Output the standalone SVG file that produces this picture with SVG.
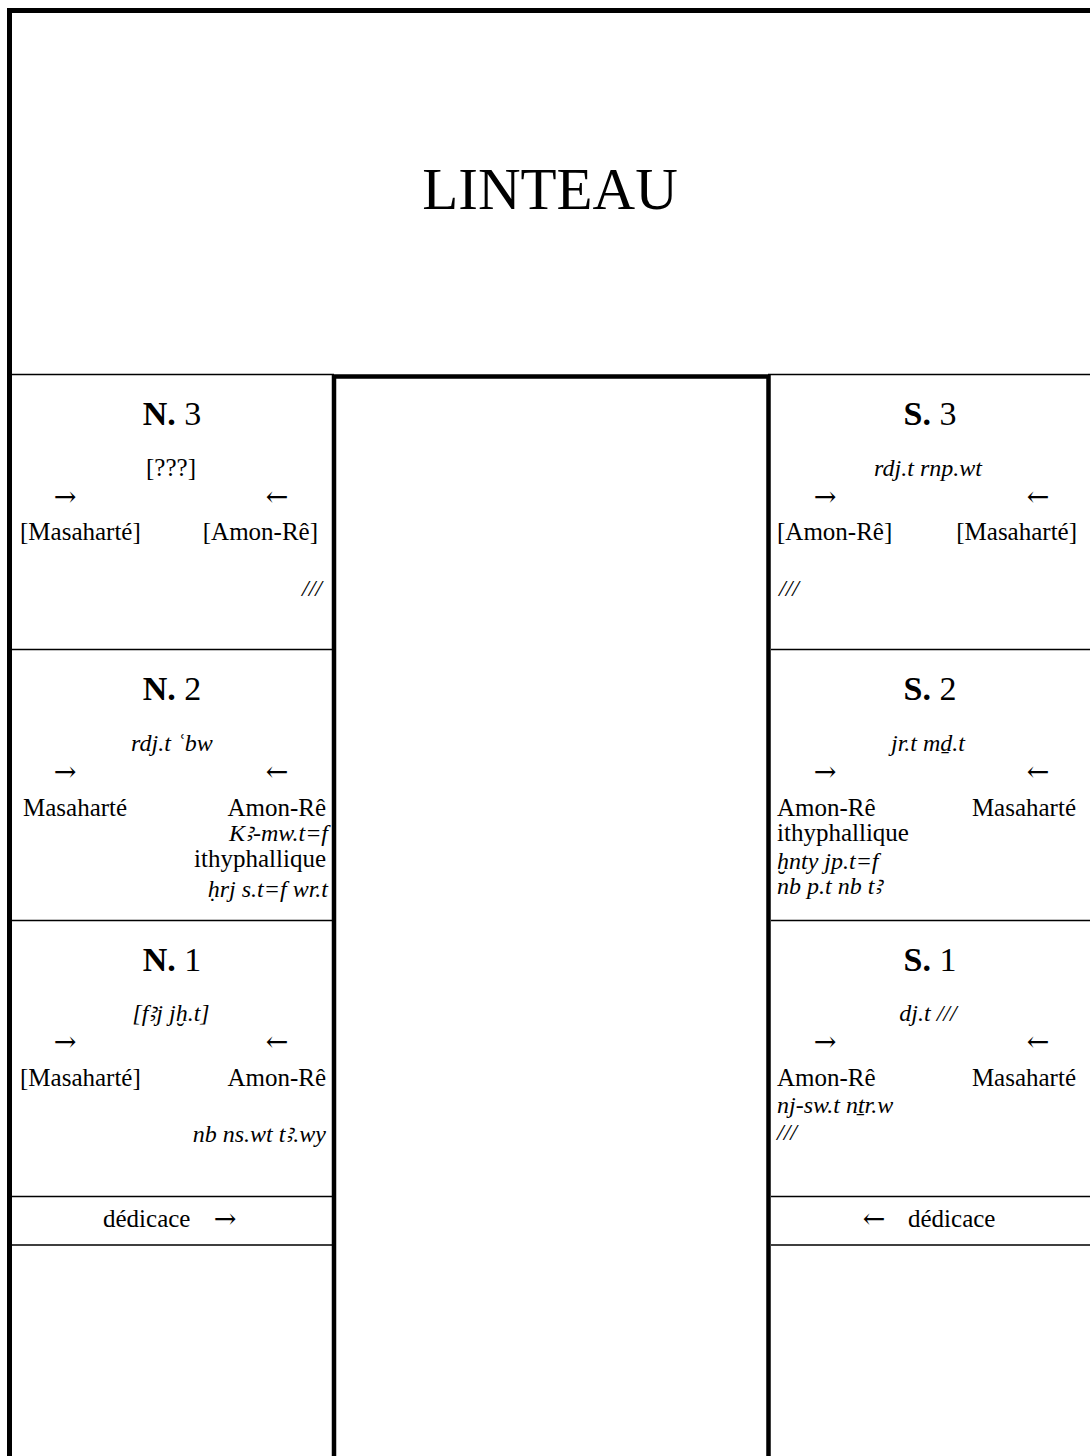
<svg xmlns="http://www.w3.org/2000/svg" width="1090" height="1456" viewBox="0 0 1090 1456">
  <style>
    text { font-family: "Liberation Serif", "DejaVu Serif", serif; fill: #000; }
    .big { font-size: 59px; }
    .title { font-size: 34px; }
    .title .b { font-weight: bold; }
    .t { font-size: 25px; }
    .i { font-size: 24px; font-style: italic; }
    .arr { font-family: "DejaVu Serif", serif; font-size: 27px; }
    .mid { text-anchor: middle; }
    .end { text-anchor: end; }
    .frame { fill: none; stroke: #000; stroke-width: 5; }
    .door { fill: none; stroke: #000; stroke-width: 4.5; }
    .rule { fill: none; stroke: #000; stroke-width: 1.5; }
  </style>

  <rect width="1090" height="1456" fill="#fff"/>

  <!-- outer frame: left jamb edge and top edge of lintel -->
  <g id="frame">
    <path class="frame" d="M9.5 1456 V10.5 H1090"/>
  </g>

  <!-- lintel -->
  <g id="linteau">
    <text class="big mid" x="550" y="209">LINTEAU</text>
    <path class="rule" d="M12 374.5 H334 M768 374.5 H1090"/>
  </g>

  <!-- door opening -->
  <g id="porte">
    <path class="door" d="M334 1456 V376.5 H768.5 V1456"/>
  </g>

  <!-- register dividers on both jambs -->
  <g id="registres">
    <path class="rule" d="M12 649.5 H332 M771 649.5 H1090"/>
    <path class="rule" d="M12 920.5 H332 M771 920.5 H1090"/>
    <path class="rule" d="M12 1196.5 H332 M771 1196.5 H1090"/>
    <path class="rule" d="M12 1245 H332 M771 1245 H1090"/>
  </g>

  <!-- north jamb -->
  <g id="n3">
    <text class="title mid" x="172" y="425"><tspan class="b">N.</tspan> 3</text>
    <text class="t mid" x="171" y="476">[???]</text>
    <text class="arr mid" x="65" y="506">→</text>
    <text class="arr mid" x="277" y="506">←</text>
    <text class="t" x="20" y="540">[Masaharté]</text>
    <text class="t end" x="318" y="540">[Amon-Rê]</text>
    <text class="i end" x="322" y="596">///</text>
  </g>

  <g id="n2">
    <text class="title mid" x="172" y="700"><tspan class="b">N.</tspan> 2</text>
    <text class="i mid" x="172" y="751">rdj.t ʿbw</text>
    <text class="arr mid" x="65" y="781">→</text>
    <text class="arr mid" x="277" y="781">←</text>
    <text class="t" x="23" y="816">Masaharté</text>
    <text class="t end" x="326" y="816">Amon-Rê</text>
    <text class="i end" x="328" y="841">Kꜣ-mw.t=f</text>
    <text class="t end" x="326" y="867">ithyphallique</text>
    <text class="i end" x="328" y="897">ḥrj s.t=f wr.t</text>
  </g>

  <g id="n1">
    <text class="title mid" x="172" y="971"><tspan class="b">N.</tspan> 1</text>
    <text class="i mid" x="171" y="1021">[fꜣj jḫ.t]</text>
    <text class="arr mid" x="65" y="1051">→</text>
    <text class="arr mid" x="277" y="1051">←</text>
    <text class="t" x="20" y="1086">[Masaharté]</text>
    <text class="t end" x="326" y="1086">Amon-Rê</text>
    <text class="i end" x="326" y="1142">nb ns.wt tꜣ.wy</text>
  </g>

  <g id="n-dedicace">
    <text class="t" x="103" y="1227">dédicace</text>
    <text class="arr mid" x="225" y="1228">→</text>
  </g>

  <!-- south jamb -->
  <g id="s3">
    <text class="title mid" x="930" y="425"><tspan class="b">S.</tspan> 3</text>
    <text class="i mid" x="928" y="476">rdj.t rnp.wt</text>
    <text class="arr mid" x="825" y="506">→</text>
    <text class="arr mid" x="1038" y="506">←</text>
    <text class="t" x="777" y="540">[Amon-Rê]</text>
    <text class="t end" x="1077" y="540">[Masaharté]</text>
    <text class="i" x="779" y="596">///</text>
  </g>

  <g id="s2">
    <text class="title mid" x="930" y="700"><tspan class="b">S.</tspan> 2</text>
    <text class="i mid" x="928" y="751">jr.t mḏ.t</text>
    <text class="arr mid" x="825" y="781">→</text>
    <text class="arr mid" x="1038" y="781">←</text>
    <text class="t" x="777" y="816">Amon-Rê</text>
    <text class="t end" x="1076" y="816">Masaharté</text>
    <text class="t" x="777" y="841">ithyphallique</text>
    <text class="i" x="777" y="869">ḫnty jp.t=f</text>
    <text class="i" x="777" y="894">nb p.t nb tꜣ</text>
  </g>

  <g id="s1">
    <text class="title mid" x="930" y="971"><tspan class="b">S.</tspan> 1</text>
    <text class="i mid" x="928" y="1021">dj.t ///</text>
    <text class="arr mid" x="825" y="1051">→</text>
    <text class="arr mid" x="1038" y="1051">←</text>
    <text class="t" x="777" y="1086">Amon-Rê</text>
    <text class="t end" x="1076" y="1086">Masaharté</text>
    <text class="i" x="777" y="1113">nj-sw.t nṯr.w</text>
    <text class="i" x="777" y="1140">///</text>
  </g>

  <g id="s-dedicace">
    <text class="arr mid" x="874" y="1228">←</text>
    <text class="t" x="908" y="1227">dédicace</text>
  </g>
</svg>
